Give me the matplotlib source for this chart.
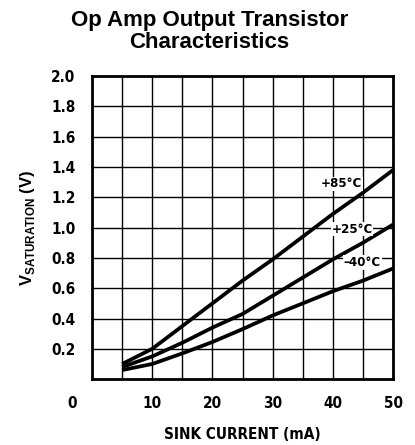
import matplotlib
matplotlib.use("Agg")
import matplotlib.pyplot as plt
import matplotlib.transforms as mtransforms

# Sink current (mA) and saturation voltage (V) per temperature
current = [5, 10, 15, 20, 25, 30, 35, 40, 45, 50]
v_85c = [0.10, 0.20, 0.35, 0.50, 0.65, 0.79, 0.94, 1.09, 1.23, 1.38]
v_25c = [0.08, 0.15, 0.24, 0.34, 0.43, 0.55, 0.67, 0.79, 0.90, 1.02]
v_m40c = [0.06, 0.10, 0.17, 0.245, 0.33, 0.42, 0.50, 0.58, 0.65, 0.73]

curve_labels = ["+85°C", "+25°C", "–40°C"]
label_pos = [(41.5, 1.29), (43.2, 0.99), (44.9, 0.77)]

x_ticks = [0, 10, 20, 30, 40, 50]
y_ticks = [0.2, 0.4, 0.6, 0.8, 1.0, 1.2, 1.4, 1.6, 1.8, 2.0]

plt.rcParams["mathtext.fontset"] = "custom"
plt.rcParams["mathtext.rm"] = "Liberation Sans:bold"

cond = dict(family="DejaVu Sans", stretch="condensed", weight="bold")

fig = plt.figure(figsize=(4.15, 4.45), dpi=100)
ax = fig.add_axes([0.2217, 0.148, 0.7253, 0.681])

for v in (v_85c, v_25c, v_m40c):
    ax.plot(current, v, color="black", lw=2.7, solid_capstyle="butt", zorder=3)

for text, (x, y) in zip(curve_labels, label_pos):
    ax.text(x, y, text, ha="center", va="center", fontsize=9.5, zorder=4,
            bbox=dict(facecolor="white", edgecolor="none", pad=0.5), **cond)

ax.set_xlim(0, 50)
ax.set_ylim(0, 2.0)
ax.set_xticks(range(0, 51, 5))
ax.set_yticks([i * 0.2 for i in range(11)])
ax.grid(True, color="black", lw=1.0)
ax.tick_params(length=0, pad=12)
ax.set_xticklabels([str(t) if t in x_ticks else "" for t in range(0, 51, 5)], fontsize=11, **cond)
ax.set_yticklabels([""] + [f"{t:.1f}" for t in y_ticks], fontsize=11, **cond)
# the "0" sits further left in the original sheet
zero = ax.get_xticklabels()[0]
zero.set_transform(zero.get_transform() + mtransforms.ScaledTranslation(-0.2, 0, fig.dpi_scale_trans))

for s in ax.spines.values():
    s.set_linewidth(2.0)

ax.set_xlabel("SINK CURRENT (mA)", fontsize=11, labelpad=12, **cond)
ax.set_ylabel(r"V$_{\rm SATURATION}$ (V)", fontsize=12, labelpad=10,
              family="Liberation Sans", weight="bold")

fig.suptitle("Op Amp Output Transistor\nCharacteristics", x=0.505, y=0.978,
             fontsize=16, weight="bold", family="Liberation Sans", linespacing=1.05)

fig.savefig("out.png", dpi=100)
